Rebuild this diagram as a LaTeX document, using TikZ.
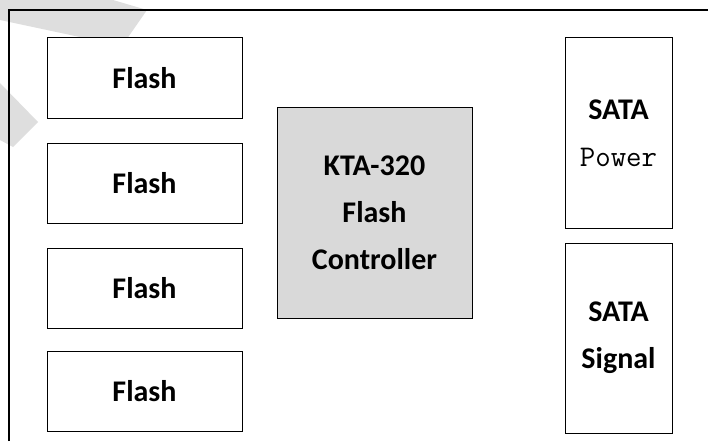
\documentclass[tikz,border=0pt]{standalone}
\usepackage{fontspec}
\setmainfont{Carlito}
\definecolor{chipgray}{HTML}{D9D9D9}
\definecolor{markgray}{HTML}{DEDEDE}
\begin{document}
\begin{tikzpicture}[x=1pt, y=-1pt,
				    block/.style={draw, line width=1pt, fill=white, inner sep=0pt,
				    			  align=center, text=black,
				    			  font=\bfseries\fontsize{30}{47}\selectfont},
				    flashbox/.style={block, minimum width=195pt, minimum height=80pt},
				    satabox/.style={block, minimum width=107pt, minimum height=190pt}]
	\useasboundingbox (0, 0) rectangle (708, 441);
	% faint marks in the corner
	\fill[markgray] (0, 0) -- (113, 0) -- (147, 10) -- (122, 46) -- (0, 20) -- cycle;
	\fill[markgray] (0, 83) -- (38, 122) -- (13, 147) -- (0, 140) -- cycle;
	% board outline
	\draw[line width=1.6pt] (9, 441) -- (9, 10) -- (708, 10);

	\node[flashbox] (f1) at (144.5, 78) {Flash};
	\node[flashbox] (f2) at (144.5, 183.5) {Flash};
	\node[flashbox] (f3) at (144.5, 288.5) {Flash};
	\node[flashbox] (f4) at (144.5, 391) {Flash};
	\node[block, fill=chipgray, minimum width=195pt, minimum height=211pt]
		(ctrl) at (374.5, 212.5) {KTA-320\\Flash\\Controller};
	\node[satabox] (pwr) at (618.5, 133) {SATA\\{\ttfamily\mdseries Power}};
	\node[satabox] (sig) at (618.5, 338) {SATA\\Signal};

\end{tikzpicture}
\end{document}
